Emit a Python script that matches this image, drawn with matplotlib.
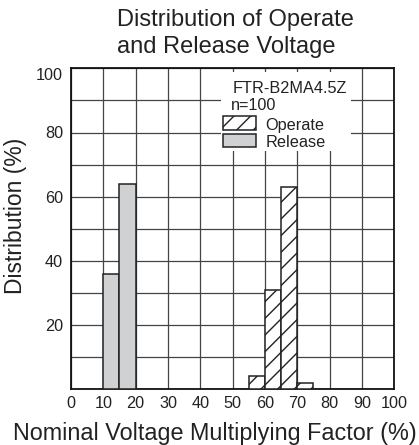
import matplotlib
matplotlib.use("Agg")
import matplotlib.pyplot as plt
from matplotlib.patches import Rectangle
import numpy as np

plt.rcParams['font.family'] = ['Liberation Sans', 'DejaVu Sans']

# Data
bin_width = 5
release_bins = [10, 15]
release_vals = [36, 64]
operate_bins = [55, 60, 65, 70]
operate_vals = [4, 31, 63, 2]
x_ticks = list(range(0, 101, 10))
y_grid = list(range(0, 101, 10))
y_labels = ['', '', '20', '', '40', '', '60', '', '80', '', '100']

title_lines = ["Distribution of Operate", "and Release Voltage"]
model = "FTR-B2MA4.5Z"
n_text = "n=100"

W, H = 419, 445
fig = plt.figure(figsize=(W / 100, H / 100), dpi=100)
L, R, B, T = 71, 394.3, 389.3, 68.3
ax = fig.add_axes([L / W, (H - B) / H, (R - L) / W, (B - T) / H])

ax.set_xlim(0, 100)
ax.set_ylim(0, 100)
ax.set_xticks(x_ticks)
ax.set_xticklabels([str(v) for v in x_ticks])
ax.set_yticks(y_grid)
ax.set_yticklabels(y_labels)
ax.tick_params(axis='both', length=0, labelsize=11.7, colors='#222222')
ax.tick_params(axis='x', pad=4.5)
ax.tick_params(axis='y', pad=5.8)
ax.grid(True, color='#444444', linewidth=0.9)
ax.set_axisbelow(True)
for s in ax.spines.values():
    s.set_linewidth(1.3)
    s.set_color('#111111')

ax.bar(release_bins, release_vals, width=bin_width, align='edge',
       color='#d0d1d3', edgecolor='#222222', linewidth=1.1, zorder=3)
ax.bar(operate_bins, operate_vals, width=bin_width, align='edge',
       color='white', edgecolor='#222222', linewidth=1.1, hatch='//', zorder=3)

# label "100" aligned to top
ax.yaxis.get_major_ticks()[-1].label1.set_verticalalignment('top')

def axx(px):
    return (px - L) / (R - L)

def axy(py):
    return (B - py) / (B - T)

# legend background
ax.add_patch(Rectangle((axx(221), axy(151)), axx(351) - axx(221), axy(72) - axy(151),
                       transform=ax.transAxes, facecolor='white', edgecolor='none', zorder=2))
tc = '#222222'
fs = 11.7
ax.text(axx(232.3), axy(92.7), model, transform=ax.transAxes, fontsize=fs,
        va='baseline', ha='left', color=tc, zorder=4)
ax.text(axx(231), axy(110.3), n_text, transform=ax.transAxes, fontsize=fs,
        va='baseline', ha='left', color=tc, zorder=4)
ax.add_patch(Rectangle((axx(223.3), axy(130)), axx(256) - axx(223.3), axy(116) - axy(130),
                       transform=ax.transAxes, facecolor='white', edgecolor='#222222',
                       linewidth=1.1, hatch='//', zorder=4))
ax.add_patch(Rectangle((axx(223.3), axy(147)), axx(256) - axx(223.3), axy(133.7) - axy(147),
                       transform=ax.transAxes, facecolor='#d0d1d3', edgecolor='#222222',
                       linewidth=1.1, zorder=4))
ax.text(axx(265.7), axy(130), "Operate", transform=ax.transAxes, fontsize=fs,
        va='baseline', ha='left', color=tc, zorder=4)
ax.text(axx(265.7), axy(147), "Release", transform=ax.transAxes, fontsize=fs,
        va='baseline', ha='left', color=tc, zorder=4)

# title
fig.text(117 / W, (H - 26) / H, title_lines[0], fontsize=17, ha='left', va='baseline', color=tc)
fig.text(117 / W, (H - 52.7) / H, title_lines[1], fontsize=17, ha='left', va='baseline', color=tc)

# axis labels
fig.text(13 / W, 5 / H, "Nominal Voltage Multiplying Factor (%)", fontsize=16.8,
         ha='left', va='baseline', color=tc)
fig.text(4 / W, (H - 215.5) / H, "Distribution (%)", fontsize=16.5, rotation=90,
         ha='left', va='center', color=tc)

fig.savefig("out.png", dpi=100)
